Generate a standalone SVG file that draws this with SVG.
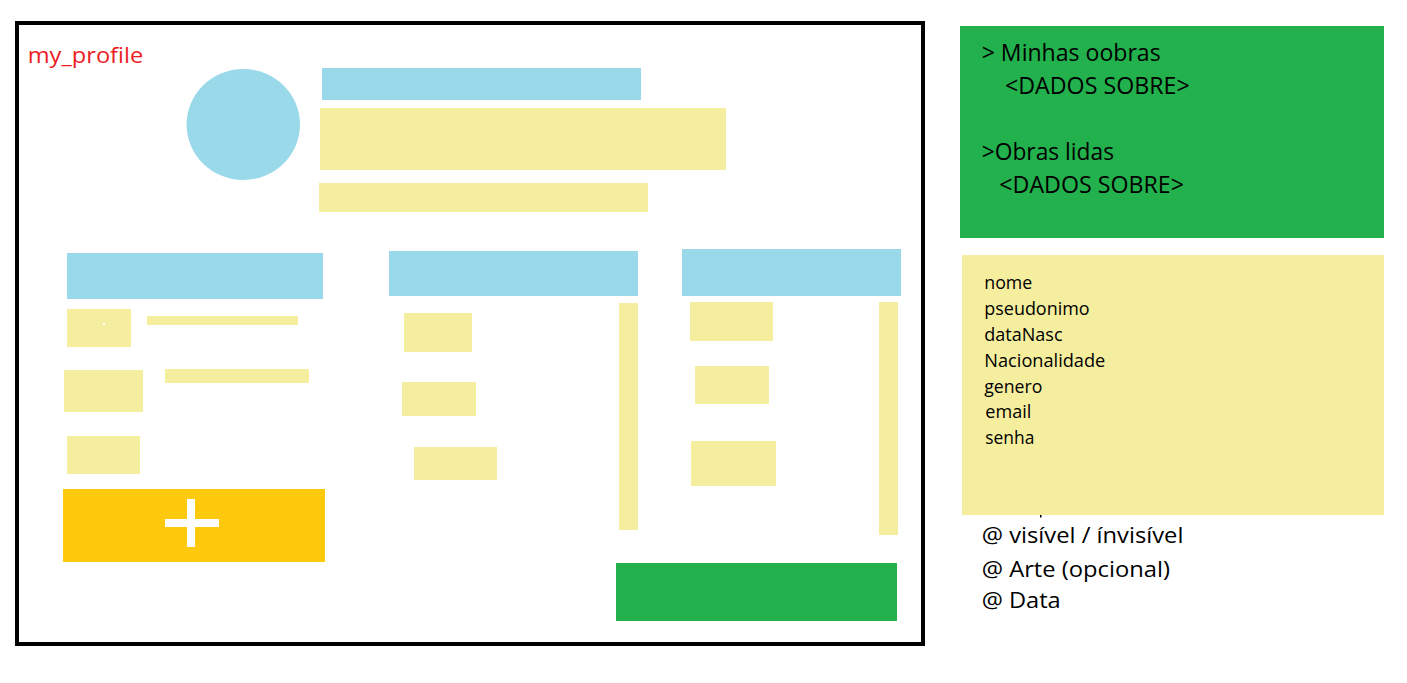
<svg xmlns="http://www.w3.org/2000/svg" width="1407" height="683" viewBox="0 0 1407 683">
<style>
.blue{fill:#99D9EA}
.yel{fill:#F5EE9E}
.grn{fill:#22B14C}
.org{fill:#FFC90E}
.wht{fill:#FFFFFF}
.t{font-family:"Open Sans","Noto Sans",sans-serif;fill:#000}
.red{font-family:"Open Sans","Noto Sans",sans-serif;fill:#ED1C24;font-size:22px}
.big{font-size:23px}
.mid{font-size:22px}
.sm{font-size:17.5px}
</style>
<rect width="1407" height="683" fill="#FFFFFF"/>
<g id="frame">
<rect x="17" y="23" width="906" height="621" fill="#FFFFFF" stroke="#000" stroke-width="4"/>
<text class="red" x="27.7" y="63.3" textLength="115.6" lengthAdjust="spacingAndGlyphs">my_profile</text>
</g>
<g id="header">
<ellipse class="blue" cx="243.3" cy="124.5" rx="56.7" ry="55.5"/>
<rect class="blue" x="322" y="68" width="319" height="32"/>
<rect class="yel" x="320" y="108" width="406" height="62"/>
<rect class="yel" x="319" y="183" width="329" height="29"/>
</g>
<g id="col-left">
<rect class="blue" x="67" y="253" width="256" height="46"/>
<rect class="yel" x="67" y="309" width="64" height="38"/>
<rect class="wht" x="103" y="323" width="2" height="2"/>
<rect class="yel" x="147" y="316" width="151" height="9"/>
<rect class="yel" x="64" y="370" width="79" height="42"/>
<rect class="yel" x="165" y="369" width="144" height="14"/>
<rect class="yel" x="67" y="436" width="73" height="38"/>
</g>
<g id="add-button">
<rect class="org" x="63" y="489" width="262" height="73"/>
<rect class="wht" x="187" y="499" width="8" height="48"/>
<rect class="wht" x="165" y="519" width="54" height="8"/>
</g>
<g id="col-middle">
<rect class="blue" x="389" y="251" width="249" height="45"/>
<rect class="yel" x="404" y="313" width="68" height="39"/>
<rect class="yel" x="402" y="382" width="74" height="34"/>
<rect class="yel" x="414" y="447" width="83" height="33"/>
<rect class="yel" x="619" y="303" width="19" height="227"/>
</g>
<g id="col-right">
<rect class="blue" x="682" y="249" width="219" height="47"/>
<rect class="yel" x="690" y="302" width="83" height="39"/>
<rect class="yel" x="695" y="366" width="74" height="38"/>
<rect class="yel" x="691" y="441" width="85" height="45"/>
<rect class="yel" x="879" y="302" width="19" height="233"/>
</g>
<g id="green-button">
<rect class="grn" x="616" y="563" width="281" height="58"/>
</g>
<g id="works-panel">
<rect class="grn" x="960" y="26" width="424" height="212"/>
<text class="t big" x="981.7" y="61" textLength="179" lengthAdjust="spacingAndGlyphs">&gt; Minhas oobras</text>
<text class="t big" x="1005" y="94" textLength="184.7" lengthAdjust="spacingAndGlyphs">&lt;DADOS SOBRE&gt;</text>
<text class="t big" x="981.7" y="160" textLength="132.3" lengthAdjust="spacingAndGlyphs">&gt;Obras lidas</text>
<text class="t big" x="999.3" y="192.7" textLength="184.7" lengthAdjust="spacingAndGlyphs">&lt;DADOS SOBRE&gt;</text>
</g>
<g id="fields-panel">
<rect class="yel" x="962" y="255" width="422" height="260"/>
<text class="t sm" x="984.3" y="289.3" textLength="48" lengthAdjust="spacingAndGlyphs">nome</text>
<text class="t sm" x="984.3" y="315" textLength="105.3" lengthAdjust="spacingAndGlyphs">pseudonimo</text>
<text class="t sm" x="984.3" y="341" textLength="78.3" lengthAdjust="spacingAndGlyphs">dataNasc</text>
<text class="t sm" x="984.3" y="366.7" textLength="121" lengthAdjust="spacingAndGlyphs">Nacionalidade</text>
<text class="t sm" x="984.3" y="392.7" textLength="58" lengthAdjust="spacingAndGlyphs">genero</text>
<text class="t sm" x="985.3" y="418.3" textLength="46" lengthAdjust="spacingAndGlyphs">email</text>
<text class="t sm" x="985.3" y="444" textLength="49" lengthAdjust="spacingAndGlyphs">senha</text>
</g>
<g id="attributes">
<rect x="1040" y="515" width="1.5" height="2.5" fill="#000"/>
<text class="t mid" x="981.7" y="543.3" textLength="201.7" lengthAdjust="spacingAndGlyphs">@ visível / ínvisível</text>
<text class="t mid" x="981.7" y="576.7" textLength="188.3" lengthAdjust="spacingAndGlyphs">@ Arte (opcional)</text>
<text class="t mid" x="981.7" y="608.3" textLength="79" lengthAdjust="spacingAndGlyphs">@ Data</text>
</g>
<g id="connectors"/>
</svg>
